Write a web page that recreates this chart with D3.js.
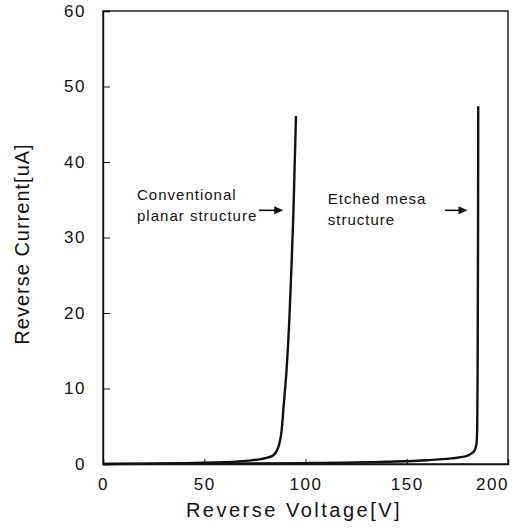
<!DOCTYPE html>
<html><head><meta charset="utf-8">
<script src="https://cdn.jsdelivr.net/npm/d3@7"></script>
<style>
html,body{margin:0;padding:0;background:#fff;}
svg{display:block;font-family:"Liberation Sans",Arial,Helvetica,sans-serif;}
</style></head>
<body><svg id="c" width="521" height="529"></svg>
<script>
// Data (Reverse Voltage [V], Reverse Current [uA])
const conventionalV = [0, 20, 40, 55, 65, 72, 78, 82, 84.5, 85.7, 87, 88.2, 89.3, 90.6, 92, 93, 94, 95.3];
const conventionalI = [0, 0.05, 0.1, 0.2, 0.3, 0.45, 0.65, 0.9, 1.25, 1.7, 2.6, 4.4, 8, 12.3, 19, 25.6, 33, 46.1];
const etchedV = [0, 50, 100, 140, 160, 172, 179, 182, 183.7, 184.5, 184.8, 185, 185.2, 185.3];
const etchedI = [0, 0.05, 0.12, 0.3, 0.5, 0.75, 1.0, 1.4, 1.9, 2.8, 5, 12, 30, 47.4];
const xTicks = [0, 50, 100, 150, 200];
const yTicks = [0, 10, 20, 30, 40, 50, 60];
const xTitle = "Reverse Voltage[V]";
const yTitle = "Reverse Current[uA]";
const noteLines = [["Conventional", "planar structure"], ["Etched mesa", "structure"]];
const noteAt = [[16.8, 35.0], [111.0, 34.4]];          // text anchor (data coords)
const arrowFrom = [[77.0, 33.6], [168.9, 33.6]];
const arrowTo = [[89.0, 33.6], [180.0, 33.6]];

const svg = d3.select("#c");
const x = d3.scaleLinear().domain([0, 200]).range([103, 508]);
const y = d3.scaleLinear().domain([0, 60]).range([464, 11]);
const ink = "#111";

// frame
svg.append("rect").attr("x", x(0)).attr("y", y(60))
  .attr("width", x(200) - x(0)).attr("height", y(0) - y(60))
  .attr("fill", "none").attr("stroke", ink).attr("stroke-width", 1.4);

// axes
const xAxis = svg.append("g").attr("transform", `translate(0,${y(0)})`)
  .call(d3.axisBottom(x).tickValues(xTicks).tickSize(-5).tickPadding(14).tickFormat(d3.format("d")));
const yAxis = svg.append("g").attr("transform", `translate(${x(0)},0)`)
  .call(d3.axisLeft(y).tickValues(yTicks).tickSize(-7).tickPadding(17).tickFormat(d3.format("d")));
[xAxis, yAxis].forEach(g => {
  g.select(".domain").attr("stroke", ink).attr("stroke-width", 1.4);
  g.selectAll(".tick line").attr("stroke", ink).attr("stroke-width", 1);
  g.selectAll(".tick text").attr("fill", ink).attr("font-size", 17)
    .attr("letter-spacing", 1.5).attr("font-family", "Liberation Sans, Arial, sans-serif");
});
yAxis.selectAll(".tick line").filter(d => d === 0 || d === 60).remove();
xAxis.selectAll(".tick line").filter(d => d === 0 || d === 200).remove();
xAxis.selectAll(".tick text").filter(d => d === 200).attr("dx", -16);

// curves
const line = d3.line().x(d => x(d[0])).y(d => y(d[1])).curve(d3.curveMonotoneX);
[[conventionalV, conventionalI], [etchedV, etchedI]].forEach(([vs, is]) => {
  svg.append("path").datum(vs.map((v, i) => [v, is[i]]))
    .attr("d", line).attr("fill", "none").attr("stroke", ink)
    .attr("stroke-width", 2.4).attr("stroke-linejoin", "round");
});

// annotations
noteLines.forEach((lines, k) => {
  const t = svg.append("text").attr("x", x(noteAt[k][0])).attr("y", y(noteAt[k][1]))
    .attr("font-size", 15).attr("letter-spacing", 1).attr("fill", ink);
  lines.forEach((s, j) => t.append("tspan").attr("x", x(noteAt[k][0])).attr("dy", j ? 21 : 0).text(s));
  const x1 = x(arrowFrom[k][0]), x2 = x(arrowTo[k][0]), yy = y(arrowFrom[k][1]);
  svg.append("line").attr("x1", x1).attr("x2", x2 - 6).attr("y1", yy).attr("y2", yy)
    .attr("stroke", ink).attr("stroke-width", 1.6);
  svg.append("path").attr("d", `M${x2},${yy} L${x2 - 9},${yy - 4} L${x2 - 9},${yy + 4} Z`).attr("fill", ink);
});

// titles
svg.append("text").attr("x", 294).attr("y", 517).attr("text-anchor", "middle")
  .attr("font-size", 20).attr("letter-spacing", 2.5).attr("fill", ink).text(xTitle);
svg.append("text").attr("transform", "translate(29,244) rotate(-90)").attr("text-anchor", "middle")
  .attr("font-size", 20).attr("letter-spacing", 1).attr("fill", ink).text(yTitle);
</script></body></html>
